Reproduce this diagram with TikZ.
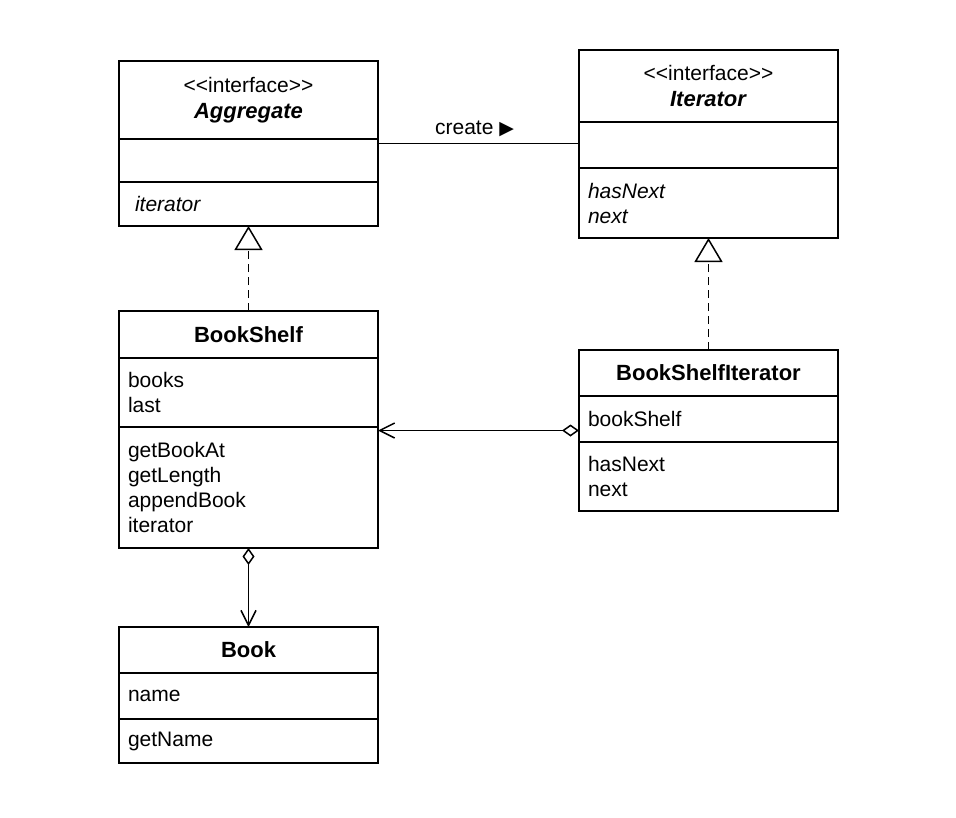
\documentclass[tikz,border=0pt]{standalone}
\usepackage{fontspec}
\setmainfont{Liberation Sans}
\newfontfamily\umlfont{Liberation Sans}
\newfontfamily\symfont{DejaVu Sans}
\usetikzlibrary{arrows.meta,positioning,fit}
\tikzset{>=latex}
\tikzset{
  compart/.style={draw, line width=1.5pt, inner xsep=9pt, inner ysep=0pt, outer sep=0pt,
    text width=241pt, align=left, font=\umlfont\fontsize{21}{25}\selectfont},
  title/.style={compart, align=center, font=\umlfont\fontsize{22}{26}\selectfont\bfseries},
  classbox/.style={inner sep=0pt, outer sep=0pt},
  realize/.style={line width=1.5pt, dash pattern=on 8pt off 5pt, -{Triangle[open, length=24pt, width=28pt]}},
  aggr/.style={line width=1.5pt, {Diamond[open, length=17pt, width=12pt]}-{Straight Barb[length=15pt, width=15pt]}},
  assoc/.style={line width=1.5pt}
}

\begin{document}
\begin{tikzpicture}[x=1pt, y=-1pt]
                \useasboundingbox (0,0) rectangle (956,817);

                % Draw the Aggregate interface
                \node[title, minimum height=78pt, anchor=north] (agg-name) at (248.5,61) {{\mdseries\fontsize{21}{26}\selectfont <<interface>>}\\\textit{Aggregate}};
                \node[compart, minimum height=43pt, below=0pt of agg-name] (agg-attr) {};
                \node[compart, minimum height=44pt, below=0pt of agg-attr] (agg-ops) {\hspace*{7pt}\textit{iterator}};
                \node[classbox, fit=(agg-name)(agg-ops)] (agg) {};

                % Draw the Iterator interface
                \node[title, minimum height=72pt, anchor=north] (it-name) at (708.5,50) {{\mdseries\fontsize{21}{26}\selectfont <<interface>>}\\\textit{Iterator}};
                \node[compart, minimum height=46pt, below=0pt of it-name] (it-attr) {};
                \node[compart, minimum height=70pt, below=0pt of it-attr] (it-ops) {\textit{hasNext}\\\textit{next}};
                \node[classbox, fit=(it-name)(it-ops)] (it) {};

                % Draw the BookShelf class
                \node[title, minimum height=47pt, anchor=north] (bs-name) at (248.5,311) {BookShelf};
                \node[compart, minimum height=69pt, below=0pt of bs-name] (bs-attr) {books\\last};
                \node[compart, minimum height=121pt, below=0pt of bs-attr] (bs-ops) {getBookAt\\getLength\\appendBook\\iterator};
                \node[classbox, fit=(bs-name)(bs-ops)] (bs) {};

                % Draw the BookShelfIterator class
                \node[title, minimum height=46pt, anchor=north] (bsi-name) at (708.5,350) {BookShelfIterator};
                \node[compart, minimum height=46pt, below=0pt of bsi-name] (bsi-attr) {bookShelf};
                \node[compart, minimum height=69pt, below=0pt of bsi-attr] (bsi-ops) {hasNext\\next};
                \node[classbox, fit=(bsi-name)(bsi-ops)] (bsi) {};

                % Draw the Book class
                \node[title, minimum height=46pt, anchor=north] (book-name) at (248.5,627) {Book};
                \node[compart, minimum height=46pt, below=0pt of book-name] (book-attr) {name};
                \node[compart, minimum height=44pt, below=0pt of book-attr] (book-ops) {getName};
                \node[classbox, fit=(book-name)(book-ops)] (book) {};

                % Draw the relations
                \draw[assoc] (agg.east) -- (it.west |- agg.east) node[midway, above=3pt, xshift=-4pt, font=\umlfont\fontsize{21}{25}\selectfont] (create) {create {\symfont\fontsize{19}{19}\selectfont ▶}};
                \draw[realize] (bs.north) -- (agg.south);
                \draw[realize] (bsi.north) -- (it.south);
                \draw[aggr] (bsi.west) -- (bs.east |- bsi.west);
                \draw[aggr] (bs.south) -- (book.north);
             \end{tikzpicture}
\end{document}
